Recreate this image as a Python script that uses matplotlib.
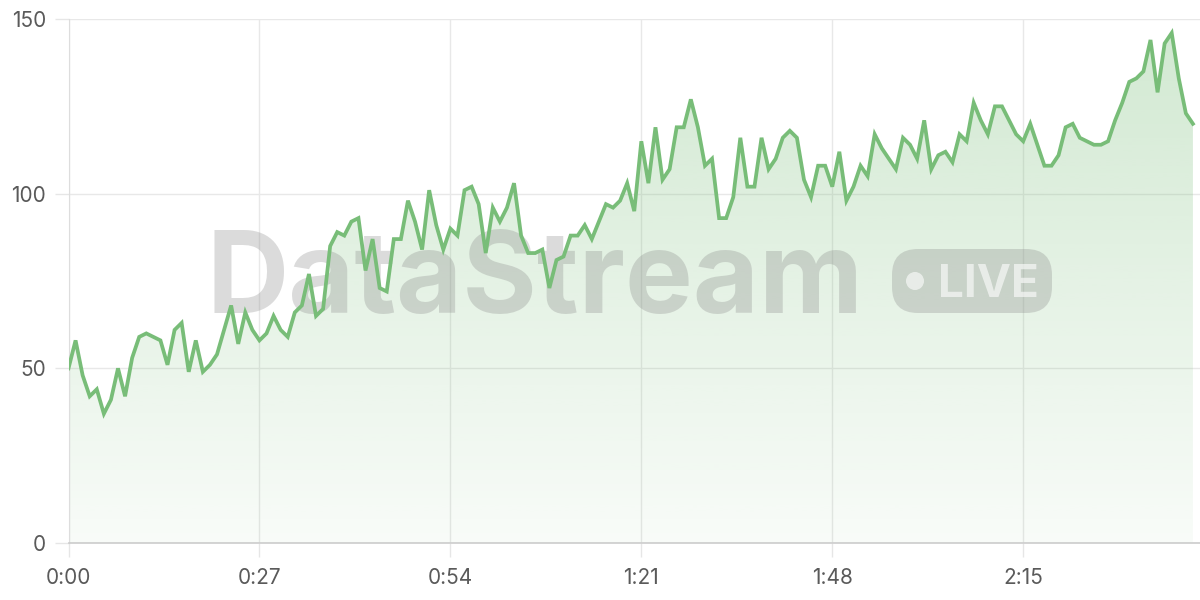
import numpy as np
import matplotlib
matplotlib.use("Agg")
import matplotlib.pyplot as plt
from matplotlib.colors import to_rgb
from matplotlib.patches import FancyBboxPatch, Circle
from matplotlib.transforms import IdentityTransform

# one reading per second, 0:00 .. 2:39
seconds = np.arange(160)
values = [
    50, 58, 48, 42, 44, 37, 41, 50, 42, 53,
    59, 60, 59, 58, 51, 61, 63, 49, 58, 49,
    51, 54, 61, 68, 57, 66, 61, 58, 60, 65,
    61, 59, 66, 68, 77, 65, 67, 85, 89, 88,
    92, 93, 78, 87, 73, 72, 87, 87, 98, 92,
    84, 101, 91, 84, 90, 88, 101, 102, 97, 83,
    96, 92, 96, 103, 88, 83, 83, 84, 73, 81,
    82, 88, 88, 91, 87, 92, 97, 96, 98, 103,
    95, 115, 103, 119, 104, 107, 119, 119, 127, 119,
    108, 110, 93, 93, 99, 116, 102, 102, 116, 107,
    110, 116, 118, 116, 104, 99, 108, 108, 102, 112,
    98, 102, 108, 105, 117, 113, 110, 107, 116, 114,
    110, 121, 107, 111, 112, 109, 117, 115, 126, 121,
    117, 125, 125, 121, 117, 115, 120, 114, 108, 108,
    111, 119, 120, 116, 115, 114, 114, 115, 121, 126,
    132, 133, 135, 144, 129, 143, 146, 133, 123, 120,
]
xticks = [0, 27, 54, 81, 108, 135]
xticklabels = ["0:00", "0:27", "0:54", "1:21", "1:48", "2:15"]
yticks = [0, 50, 100, 150]

plt.rcParams['font.family'] = ['Inter', 'DejaVu Sans']

green = "#78bd78"

fig = plt.figure(figsize=(12, 6), dpi=100)
ax = fig.add_axes([68.5 / 1200, 57 / 600, 1131.5 / 1200, 524 / 600])

# gradient area under the line
poly = ax.fill_between(seconds, values, 0, facecolor="none", edgecolor="none")
grad = np.zeros((256, 1, 4))
grad[:, 0, :3] = to_rgb(green)
grad[:, 0, 3] = np.linspace(0.05, 0.34, 256)
im = ax.imshow(grad, extent=[0, 159, 0, 150], origin="lower",
               aspect="auto", zorder=1, interpolation="bilinear")
im.set_clip_path(poly.get_paths()[0], transform=ax.transData)

ax.plot(seconds, values, color=green, lw=2.7, zorder=4, solid_joinstyle="miter")

ax.set_xlim(0, 160)
ax.set_ylim(0, 150)
ax.set_xticks(xticks)
ax.set_xticklabels(xticklabels)
ax.set_yticks(yticks)
ax.grid(True, color="#e8e8e8", lw=1)
ax.set_axisbelow(True)
for s in ["top", "right"]:
    ax.spines[s].set_visible(False)
ax.spines["left"].set_color("#dddddd")
ax.spines["bottom"].set_color("#cccccc")
ax.spines["bottom"].set_linewidth(1.2)
ax.tick_params(axis="both", labelsize=15, labelcolor="#5a5a5a",
               color="#e6e6e6", length=10, width=1)
ax.tick_params(axis="y", pad=6)
ax.tick_params(axis="x", pad=8)

# watermark
ax.text((207 - 68.5) / 1131.5, (543 - 313) / 524, "DataStream",
        transform=ax.transAxes, fontsize=82, fontweight="bold",
        color="#888888", alpha=0.3, va="baseline", ha="left", zorder=2)
pill = FancyBboxPatch((892, 287), 160, 64, boxstyle="round,pad=0,rounding_size=26",
                      transform=IdentityTransform(), facecolor="#888888",
                      edgecolor="none", alpha=0.3, zorder=2, clip_on=False)
ax.add_patch(pill)
dot = Circle((915, 319), 9, transform=IdentityTransform(), facecolor="white",
             edgecolor="none", alpha=0.6, zorder=2, clip_on=False)
ax.add_patch(dot)
ax.text(938, 303, "LIVE", transform=IdentityTransform(), fontsize=33,
        fontweight="bold", color="white", alpha=0.6, va="baseline",
        ha="left", zorder=2)

fig.savefig("out.png", dpi=100)
